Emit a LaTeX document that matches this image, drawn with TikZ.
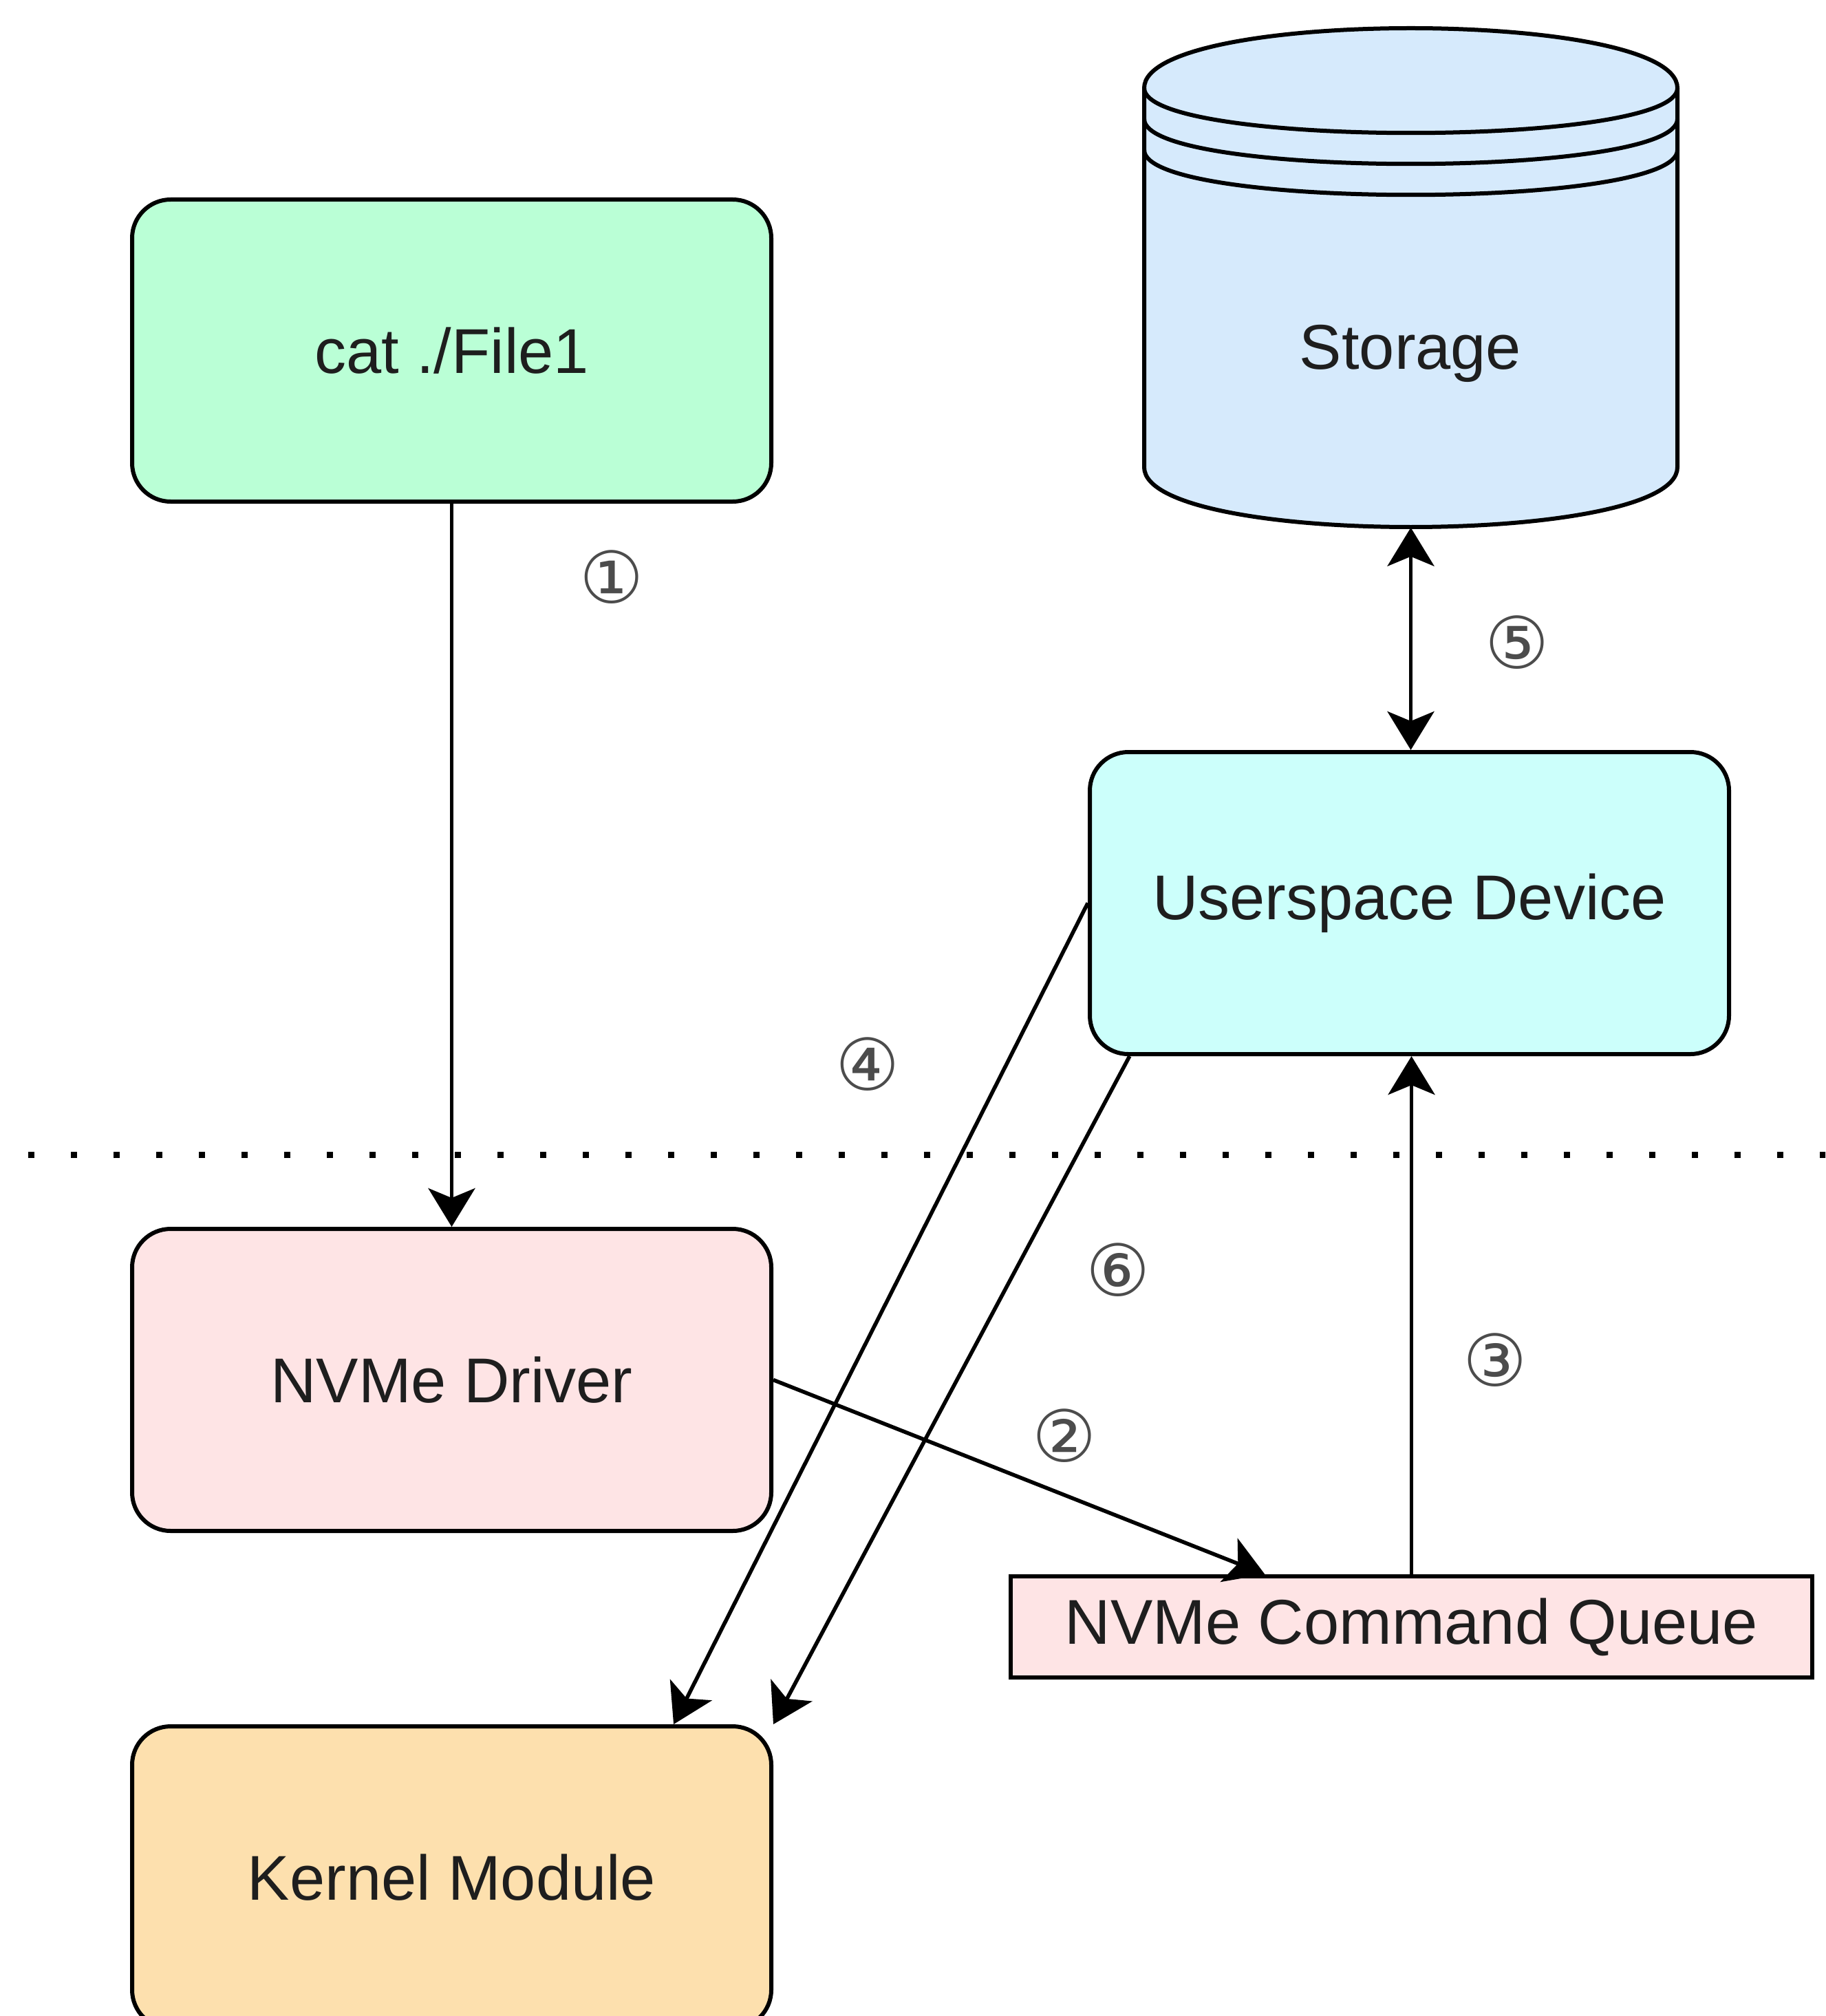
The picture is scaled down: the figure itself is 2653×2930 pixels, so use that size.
\documentclass[tikz,border=0pt]{standalone}
\usepackage{fontspec}
\setmainfont{Liberation Sans}
\newfontfamily\circfont{DejaVu Sans}
\usetikzlibrary{arrows.meta,calc}
\definecolor{cgreen}{HTML}{BAFFD6}
\definecolor{cblue}{HTML}{D6EAFC}
\definecolor{ccyan}{HTML}{CCFFFB}
\definecolor{cpink}{HTML}{FEE4E5}
\definecolor{corange}{HTML}{FDE0AE}
\definecolor{txt}{HTML}{1E1E1E}
\tikzset{
  box/.style={draw=black, line width=1.5pt, rounded corners=14pt, inner sep=0pt,
    font=\fontsize{23}{27}\selectfont, text=txt,
    minimum width=232.25pt, minimum height=109.75pt},
  qbox/.style={draw=black, line width=1.5pt, inner sep=0pt,
    font=\fontsize{23}{27}\selectfont, text=txt,
    minimum width=291.25pt, minimum height=36.75pt},
  lbl/.style={inner sep=0pt, font=\fontsize{23}{27}\selectfont, text=txt},
  num/.style={inner sep=0pt, font=\circfont\fontsize{26}{30}\selectfont, text=black!70},
  arr/.style={line width=1.4pt, -{Stealth[length=14pt, width=17pt, inset=3.5pt]}},
  darr/.style={line width=1.4pt, {Stealth[length=14pt, width=17pt, inset=3.5pt]}-{Stealth[length=14pt, width=17pt, inset=3.5pt]}},
  sep/.style={line width=2.25pt, dash pattern=on 2.25pt off 13.25pt}
}
\begin{document}
\begin{tikzpicture}[x=0.25pt, y=-0.25pt]
\clip (0,0) rectangle (2653,2930);
\fill[white] (0,0) rectangle (2653,2930);

% separator
\coordinate (sepL) at (41,1678);
\coordinate (sepR) at (2660,1678);
\draw[sep] (sepL) -- (sepR);

% boxes
\node[box, fill=cgreen] (cat) at (656.5,509.5) {cat ./File1};
\node[box, fill=ccyan] (usr) at (2048.5,1312.5) {Userspace Device};
\node[box, fill=cpink] (drv) at (656.5,2005.5) {NVMe Driver};
\node[qbox, fill=cpink] (cq) at (2051.5,2364.5) {NVMe Command Queue};
\node[box, fill=corange] (km) at (656.5,2728.5) {Kernel Module};

% storage cylinder
\node[inner sep=0pt, minimum width=193.75pt, minimum height=181.25pt] (storage) at (2050.5,403.5) {};
\draw[line width=1.5pt, fill=cblue]
  (1663,128) .. controls (1663,12) and (2438,12) .. (2438,128)
  -- (2438,679) .. controls (2438,795) and (1663,795) .. (1663,679) -- cycle;
\draw[line width=1.5pt] (1663,128) .. controls (1663,215) and (2438,215) .. (2438,128);
\draw[line width=1.5pt] (1663,173) .. controls (1663,260) and (2438,260) .. (2438,173);
\draw[line width=1.5pt] (1663,218) .. controls (1663,305) and (2438,305) .. (2438,218);
\node[lbl] (stxt) at (2050,514) {Storage};

% connectors
\draw[arr] (cat.south) -- (drv.north);
\draw[arr] (drv.east) -- ($(cq.north west)!0.318!(cq.north east)$);
\draw[arr] (cq.north) -- (cq.north |- usr.south);
\draw[darr] (storage.south) -- (storage.south |- usr.north);
\draw[arr] (usr.west) -- ($(km.north west)!0.845!(km.north east)$);
\draw[arr] ($(usr.south west)!0.065!(usr.south east)$) -- (km.north east);

% step numbers
\node[num] (n1) at (889,839) {①};
\node[num] (n2) at (1547,2087) {②};
\node[num] (n3) at (2173,1977) {③};
\node[num] (n4) at (1261,1547) {④};
\node[num] (n5) at (2205,934) {⑤};
\node[num] (n6) at (1625,1846) {⑥};
\end{tikzpicture}
\end{document}
